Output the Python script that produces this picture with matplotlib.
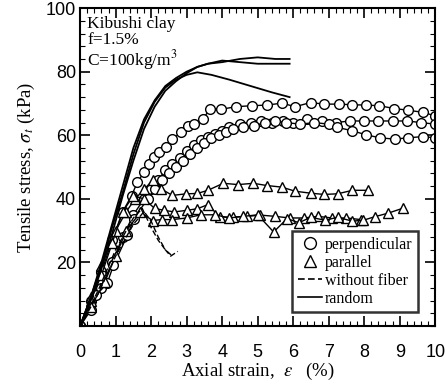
import matplotlib
matplotlib.use("Agg")
import matplotlib.pyplot as plt
from matplotlib.ticker import MultipleLocator
from matplotlib.lines import Line2D

# --- perpendicular (circles) ---
p1_x = [0, 0.3, 0.6, 0.9, 1.2, 1.45, 1.61, 1.80, 1.94, 2.08, 2.23, 2.41, 2.60, 2.84, 3.03, 3.22, 3.46, 3.65,
        3.98, 4.40, 4.83, 5.26, 5.68, 6.06, 6.49, 6.87, 7.29, 7.67, 8.05, 8.43, 8.85, 9.23, 9.66, 10.0]
p1_y = [0, 8, 17, 27, 36, 41, 45.2, 48.4, 51.0, 53.1, 54.6, 56.2, 58.8, 60.9, 63.0, 63.5, 65.1, 68.2,
        68.2, 69.0, 69.3, 69.5, 70.1, 69.0, 70.3, 69.8, 69.8, 69.6, 69.5, 69.3, 68.4, 67.9, 67.2, 66.1]
p2_x = [0, 0.3, 0.6, 0.9, 1.2, 1.5, 1.8, 2.0, 2.2, 2.4, 2.6, 2.8, 3.0, 3.2, 3.4, 3.6, 3.8, 4.0, 4.2, 4.5,
        4.8, 5.1, 5.4, 5.7, 6.0, 6.4, 6.8, 7.2, 7.6, 8.0, 8.4, 8.8, 9.2, 9.6, 10.0]
p2_y = [0, 5, 12, 20, 28, 35, 40, 43, 46, 49, 51, 53, 55, 57, 58.5, 59.5, 60.5, 61.5, 62.5, 63.5,
        64, 64.5, 64, 64.5, 64, 65, 64.5, 64, 64.5, 64.5, 64.5, 64.5, 64.5, 64, 63.5]
p3_x = [0, 0.45, 0.76, 0.94, 1.33, 1.52, 1.9, 2.1, 2.3, 2.5, 2.7, 2.9, 3.1, 3.3, 3.5, 3.7, 3.9, 4.1, 4.3,
        4.6, 4.9, 5.2, 5.5, 5.8, 6.2, 6.6, 7.0, 7.24, 7.67, 8.04, 8.44, 8.86, 9.23, 9.66, 10.0]
p3_y = [0, 9.7, 13.4, 19.1, 28.5, 33.8, 40, 43, 46, 48, 50, 52, 54, 56, 57.5, 59, 60, 61, 62,
        62.5, 63, 64, 64.5, 64, 63.5, 64, 63.5, 62.5, 61.4, 60.2, 59.2, 58.8, 59.2, 59.6, 59.2]

# --- parallel (triangles) ---
t1_x = [0, 0.3, 0.6, 1.0, 1.3, 1.55, 1.8, 2.04, 2.27, 2.6, 2.99, 3.3, 3.6, 4.03, 4.45, 4.88, 5.26, 5.68,
        6.06, 6.49, 6.87, 7.25, 7.67, 8.1]
t1_y = [0, 9, 19, 30, 36, 40, 43, 45.8, 43.2, 41.1, 41.6, 41.7, 42.7, 44.9, 44.5, 44.9, 44.2, 43.7,
        42.4, 41.8, 41.4, 41.6, 42.7, 42.7]
t2_x = [0, 0.3, 0.6, 0.9, 1.2, 1.5, 1.8, 2.1, 2.37, 2.65, 3.0, 3.3, 3.6, 3.93, 4.3, 4.7, 5.08, 5.5, 5.9,
        6.3, 6.7, 7.1, 7.5, 7.9]
t2_y = [0, 8, 16, 26, 36, 41, 40, 37, 36.4, 35.9, 36.4, 36.9, 38.2, 34.3, 34.3, 34.5, 34.9, 34.5, 34,
        34, 34.5, 34, 34, 33.5]
t3_x = [0, 0.3, 0.7, 1.0, 1.3, 1.7, 2.04, 2.3, 2.6, 3.0, 3.4, 3.8, 4.2, 4.6, 5.0, 5.45, 5.83, 6.16,
        6.49, 6.9, 7.25, 7.67, 7.98, 8.3, 8.67, 9.1]
t3_y = [0, 6, 14, 22, 30, 35.8, 33.2, 33.5, 33.5, 34, 35, 35, 34, 34.5, 35, 29.6, 33.8, 32.5,
        34.2, 33.3, 34.2, 33.0, 33.3, 34.4, 35.5, 37.1]

# --- without fiber (dashed) ---
w1_x = [0, 0.5, 1.0, 1.5, 1.8, 2.0, 2.2, 2.4, 2.55, 2.75]
w1_y = [0, 10, 22, 32, 36, 33, 28, 24, 22, 23.5]
w2_x = [0, 0.5, 1.0, 1.5, 1.75, 2.0, 2.2, 2.4, 2.6]
w2_y = [0, 11, 24, 34, 37, 31, 27, 24, 22]

# --- random (solid) ---
r1_x = [0, 0.3, 0.6, 0.9, 1.2, 1.5, 1.8, 2.1, 2.4, 2.7, 3.0, 3.3, 3.6, 4.0, 4.5, 5.0, 5.5, 5.9]
r1_y = [0, 9, 20, 32, 44, 56, 65, 71, 75.5, 78, 80, 81.5, 82.5, 83, 84, 84.5, 84, 84]
r2_x = [0, 0.3, 0.6, 0.9, 1.2, 1.5, 1.8, 2.1, 2.4, 2.7, 3.0, 3.3, 3.6, 4.0, 4.5, 5.0, 5.9]
r2_y = [0, 8, 18, 29, 41, 52, 62, 69, 74, 77, 79.5, 81.5, 82.5, 83.5, 83, 82.5, 82.5]
r3_x = [0, 0.3, 0.6, 0.9, 1.2, 1.5, 1.8, 2.1, 2.4, 2.7, 3.0, 3.3, 3.7, 4.2, 4.8, 5.4, 5.9]
r3_y = [0, 9, 19, 31, 42, 54, 64, 70.5, 75, 77.5, 79, 79.8, 79, 77.5, 75.5, 73.5, 72]

serif = "Liberation Serif"
sans = "Liberation Sans"
plt.rcParams["mathtext.fontset"] = "stix"

fig = plt.figure(figsize=(4.45, 3.85), dpi=100)
ax = fig.add_axes([0.18, 0.153, 0.798, 0.826])

mk = dict(color="black", lw=1.0, mfc="white", mec="black", mew=1.0)
for x, y in [(p1_x, p1_y), (p2_x, p2_y), (p3_x, p3_y)]:
    ax.plot(x, y, marker="o", ms=7, **mk)
for x, y in [(t1_x, t1_y), (t2_x, t2_y), (t3_x, t3_y)]:
    ax.plot(x, y, marker="^", ms=7.5, **mk)
for x, y in [(w1_x, w1_y), (w2_x, w2_y)]:
    ax.plot(x, y, color="black", lw=1.0, ls=(0, (4, 2)))
for x, y in [(r1_x, r1_y), (r2_x, r2_y), (r3_x, r3_y)]:
    ax.plot(x, y, color="black", lw=1.3)

ax.set_xlim(0, 10)
ax.set_ylim(0, 100)
ax.xaxis.set_major_locator(MultipleLocator(1))
ax.xaxis.set_minor_locator(MultipleLocator(0.2))
ax.yaxis.set_major_locator(MultipleLocator(20))
ax.yaxis.set_minor_locator(MultipleLocator(4))
ax.tick_params(which="both", direction="in", top=True, right=True)
ax.tick_params(which="major", length=7, width=1.2, labelsize=13)
ax.tick_params(which="minor", length=3.5, width=0.8)
ax.tick_params(axis="x", which="major", pad=13)
ax.tick_params(axis="y", which="major", pad=3)
ax.set_yticks([20, 40, 60, 80, 100])
for lab in ax.get_xticklabels() + ax.get_yticklabels():
    lab.set_family(sans)
for s in ax.spines.values():
    s.set_linewidth(1.5)

ax.set_xlabel("Axial strain,  $\\varepsilon$   (%)", family=serif, fontsize=13.5, labelpad=0)
ax.set_ylabel("Tensile stress, $\\sigma_t$ (kPa)", family=serif, fontsize=13.5, labelpad=6)

ax.text(0.02, 0.975, "Kibushi clay\nf=1.5%\nC=100kg/m$^3$", transform=ax.transAxes,
        family=serif, fontsize=12.5, va="top", ha="left", linespacing=1.0)

handles = [
    Line2D([], [], ls="none", marker="o", ms=8.5, mfc="white", mec="black"),
    Line2D([], [], ls="none", marker="^", ms=8.5, mfc="white", mec="black"),
    Line2D([], [], color="black", lw=1.2, ls=(0, (4, 2))),
    Line2D([], [], color="black", lw=1.2),
]
labels = ["perpendicular", "parallel", "without fiber", "random"]
leg = ax.legend(handles, labels, loc="lower right", bbox_to_anchor=(0.952, 0.044),
                prop={"family": serif, "size": 11.5}, frameon=True, fancybox=False,
                handlelength=1.5, handletextpad=0.2, labelspacing=0.12, borderpad=0.35,
                borderaxespad=0)
leg.get_frame().set_edgecolor("black")
leg.get_frame().set_linewidth(1.8)

fig.savefig("out.png", dpi=100)
